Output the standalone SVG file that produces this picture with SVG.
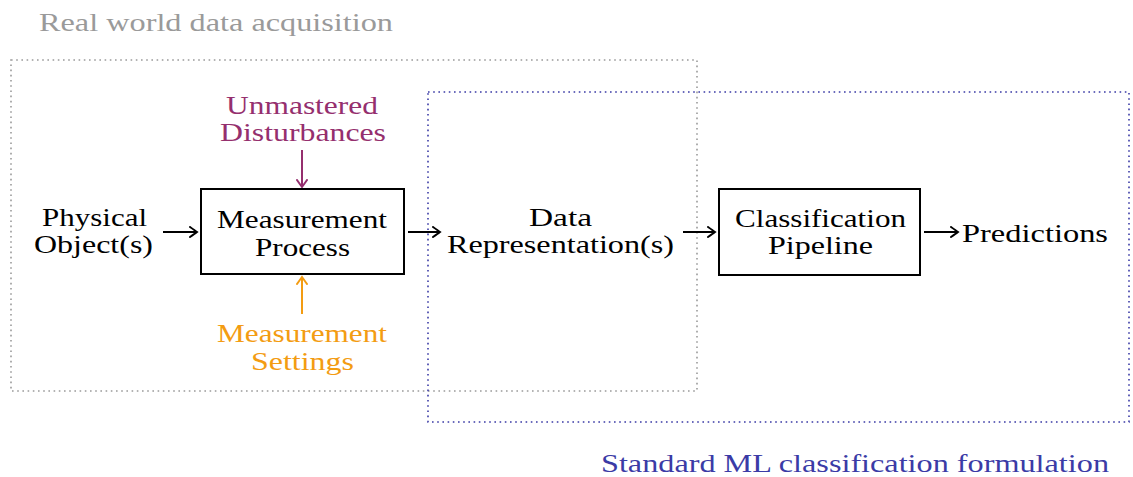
<svg xmlns="http://www.w3.org/2000/svg" width="1133" height="477" viewBox="0 0 1133 477" font-family="Liberation Serif, Times New Roman, DejaVu Serif, serif">
<style>
text{font-size:26px;fill:#000}
.gray{fill:#9a9a9a}
.purple{fill:#952f6e}
.orange{fill:#f39c12}
.blue{fill:#3b3ba6}
.box{fill:none;stroke:#000;stroke-width:2}
.dotg{fill:none;stroke:#9a9a9a;stroke-width:1.6;stroke-dasharray:1.6 3.6}
.dotb{fill:none;stroke:#3b3ba6;stroke-width:1.6;stroke-dasharray:1.6 3.6}
.conn{stroke-width:2;fill:none}
</style>
<defs>
<marker id="ahk" viewBox="-8 -6 10 12" markerWidth="10" markerHeight="12" refX="0" refY="0" orient="auto" markerUnits="userSpaceOnUse">
<path d="M-7,-5 Q-2,-1.5 0,0 Q-2,1.5 -7,5" fill="none" stroke="#000" stroke-width="2" stroke-linecap="round"/>
</marker>
<marker id="ahp" viewBox="-8 -6 10 12" markerWidth="10" markerHeight="12" refX="0" refY="0" orient="auto" markerUnits="userSpaceOnUse">
<path d="M-7,-5 Q-2,-1.5 0,0 Q-2,1.5 -7,5" fill="none" stroke="#952f6e" stroke-width="2" stroke-linecap="round"/>
</marker>
<marker id="aho" viewBox="-8 -6 10 12" markerWidth="10" markerHeight="12" refX="0" refY="0" orient="auto" markerUnits="userSpaceOnUse">
<path d="M-7,-5 Q-2,-1.5 0,0 Q-2,1.5 -7,5" fill="none" stroke="#f39c12" stroke-width="2" stroke-linecap="round"/>
</marker>
</defs>

<g id="real-world-frame">
<rect class="dotg" x="11" y="60" width="686" height="331"/>
<text class="gray" x="39" y="31" textLength="354" lengthAdjust="spacingAndGlyphs">Real world data acquisition</text>
</g>

<g id="standard-ml-frame">
<rect class="dotb" x="428" y="92" width="701" height="330"/>
<text class="blue" x="601" y="472" textLength="508" lengthAdjust="spacingAndGlyphs">Standard ML classification formulation</text>
</g>

<g id="connectors">
<line class="conn" stroke="#000" x1="163" y1="232" x2="197" y2="232" marker-end="url(#ahk)"/>
<line class="conn" stroke="#000" x1="408" y1="232" x2="440" y2="232" marker-end="url(#ahk)"/>
<line class="conn" stroke="#000" x1="683" y1="232" x2="715" y2="232" marker-end="url(#ahk)"/>
<line class="conn" stroke="#000" x1="924" y1="232" x2="958" y2="232" marker-end="url(#ahk)"/>
<line class="conn" stroke="#952f6e" x1="302" y1="150" x2="302" y2="187" marker-end="url(#ahp)"/>
<line class="conn" stroke="#f39c12" x1="302" y1="314" x2="302" y2="277" marker-end="url(#aho)"/>
</g>

<g id="physical-object">
<text x="42" y="226" textLength="105" lengthAdjust="spacingAndGlyphs">Physical</text>
<text x="34" y="253" textLength="119" lengthAdjust="spacingAndGlyphs">Object(s)</text>
</g>

<g id="unmastered-disturbances">
<text class="purple" x="226" y="114" textLength="152" lengthAdjust="spacingAndGlyphs">Unmastered</text>
<text class="purple" x="220" y="141" textLength="166" lengthAdjust="spacingAndGlyphs">Disturbances</text>
</g>

<g id="measurement-process">
<rect class="box" x="201" y="189" width="203" height="85"/>
<text x="217" y="228" textLength="170" lengthAdjust="spacingAndGlyphs">Measurement</text>
<text x="255" y="256" textLength="95" lengthAdjust="spacingAndGlyphs">Process</text>
</g>

<g id="measurement-settings">
<text class="orange" x="217" y="342" textLength="170" lengthAdjust="spacingAndGlyphs">Measurement</text>
<text class="orange" x="251" y="370" textLength="103" lengthAdjust="spacingAndGlyphs">Settings</text>
</g>

<g id="data-representation">
<text x="529" y="226" textLength="63" lengthAdjust="spacingAndGlyphs">Data</text>
<text x="447" y="253" textLength="227" lengthAdjust="spacingAndGlyphs">Representation(s)</text>
</g>

<g id="classification-pipeline">
<rect class="box" x="719" y="189" width="201" height="86"/>
<text x="735" y="227" textLength="171" lengthAdjust="spacingAndGlyphs">Classification</text>
<text x="768" y="254" textLength="105" lengthAdjust="spacingAndGlyphs">Pipeline</text>
</g>

<g id="predictions">
<text x="962" y="242" textLength="146" lengthAdjust="spacingAndGlyphs">Predictions</text>
</g>
</svg>
